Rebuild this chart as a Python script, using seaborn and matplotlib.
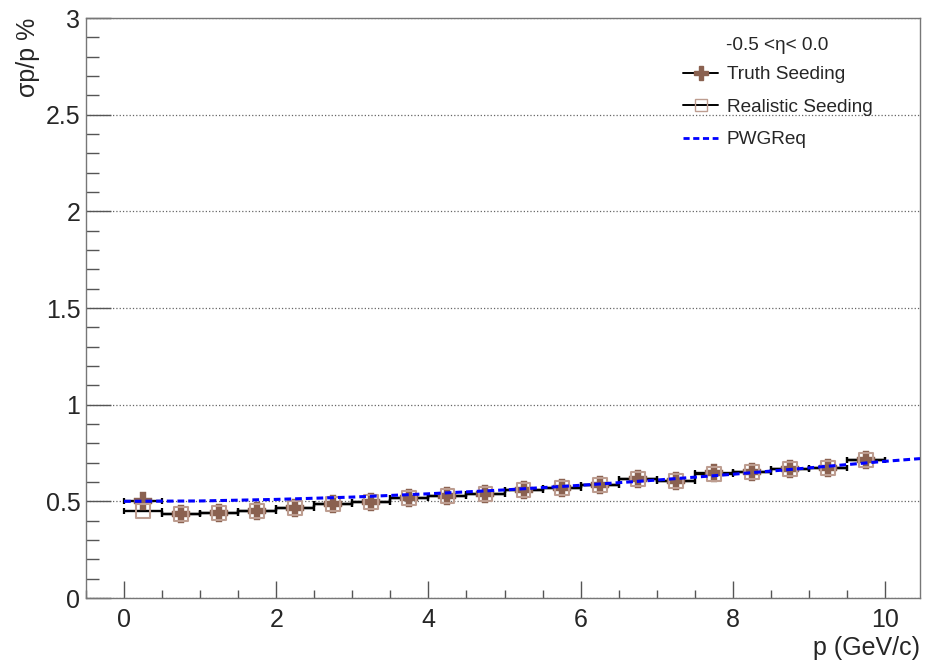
import numpy as np
import matplotlib
matplotlib.use("Agg")
import matplotlib.pyplot as plt
from matplotlib.lines import Line2D
from matplotlib.ticker import MultipleLocator, FormatStrFormatter
import seaborn as sns

# momentum bins (centres, half width 0.25 GeV/c)
p_centers = [0.25, 0.75, 1.25, 1.75, 2.25, 2.75, 3.25, 3.75, 4.25, 4.75,
             5.25, 5.75, 6.25, 6.75, 7.25, 7.75, 8.25, 8.75, 9.25, 9.75]
truth_res = [0.502, 0.435, 0.441, 0.452, 0.464, 0.485, 0.495, 0.517, 0.528, 0.538,
             0.559, 0.567, 0.583, 0.616, 0.607, 0.647, 0.653, 0.667, 0.671, 0.714]
real_res = [0.452, 0.435, 0.441, 0.452, 0.464, 0.485, 0.495, 0.517, 0.528, 0.538,
            0.559, 0.567, 0.583, 0.614, 0.607, 0.643, 0.653, 0.667, 0.671, 0.714]
bin_half = 0.25

# PWG requirement curve
pwg_p = [0.0, 1.0, 2.0, 3.0, 4.0, 5.0, 6.0, 7.0, 8.0, 9.0, 10.0, 10.46]
pwg_res = [0.500, 0.502, 0.510, 0.522, 0.539, 0.559, 0.583, 0.610, 0.640, 0.673, 0.707, 0.721]

truth_col = "#8a6150"
real_col = "#bd9d90"

sns.set_theme(style="white")
plt.rcParams["font.family"] = ["Liberation Sans", "DejaVu Sans"]

fig = plt.figure(figsize=(9.28, 6.61), dpi=100)
ax = fig.add_axes([86 / 928, 1 - 598 / 661, (920 - 86) / 928, (598 - 18) / 661])

# horizontal bin-width bars
ax.errorbar(p_centers, truth_res, xerr=bin_half, fmt="none", ecolor="black",
            elinewidth=1.7, capsize=2.2, capthick=1.6, zorder=3)
ax.errorbar(p_centers, real_res, xerr=bin_half, fmt="none", ecolor="black",
            elinewidth=1.7, capsize=2.2, capthick=1.6, zorder=3)

sns.scatterplot(x=p_centers, y=truth_res, marker="P", s=160, color=truth_col,
                edgecolor=truth_col, linewidth=0.3, ax=ax, zorder=4)
sns.scatterplot(x=p_centers, y=real_res, marker="s", s=100, facecolor="none",
                edgecolor=real_col, linewidth=1.5, ax=ax, zorder=5)

sns.lineplot(x=pwg_p, y=pwg_res, color="blue", lw=2.2, linestyle=(0, (2.2, 1.3)),
             ax=ax, zorder=6)

ax.set_xlim(-0.5, 10.46)
ax.set_ylim(0, 3)
ax.xaxis.set_major_locator(MultipleLocator(2))
ax.xaxis.set_minor_locator(MultipleLocator(0.5))
ax.yaxis.set_major_locator(MultipleLocator(0.5))
ax.yaxis.set_minor_locator(MultipleLocator(0.1))
ax.xaxis.set_major_formatter(FormatStrFormatter("%g"))
ax.yaxis.set_major_formatter(FormatStrFormatter("%g"))
ax.tick_params(axis="x", which="major", direction="in", length=12, width=1,
               color="#555555", labelsize=18, pad=7)
ax.tick_params(axis="x", which="minor", direction="in", length=6, width=1,
               color="#555555")
ax.tick_params(axis="y", which="major", direction="in", length=18, width=1,
               color="#555555", labelsize=18, pad=4)
ax.tick_params(axis="y", which="minor", direction="in", length=9.4, width=1,
               color="#555555")
ax.tick_params(bottom=True, left=True, top=False, right=False, which="both")

ax.grid(False)
ax.yaxis.grid(True, which="major", linestyle=":", color="#666666", lw=0.9)
for sp in ax.spines.values():
    sp.set_color("#777777")
    sp.set_linewidth(1.0)

ax.set_xlabel("p (GeV/c)", fontsize=18)
ax.xaxis.set_label_coords(1.0, -0.065)
ax.xaxis.label.set_ha("right")
ax.set_ylabel("σp/p %", fontsize=18)
ax.yaxis.set_label_coords(-0.084, 1.0)
ax.yaxis.label.set_va("top")
ax.yaxis.label.set_ha("right")

# legend
fig.text(726 / 928, 1 - 46 / 661, "-0.5 <η< 0.0", fontsize=13.7, va="center", ha="left")
handles = [
    Line2D([], [], color="black", lw=1.4, marker="P", ms=10, mfc=truth_col, mec=truth_col),
    Line2D([], [], color="black", lw=1.4, marker="s", ms=9, mfc="none", mec=real_col),
    Line2D([], [], color="blue", lw=2, linestyle=(0, (2.2, 1.3))),
]
labels = ["Truth Seeding", "Realistic Seeding", "PWGReq"]
fig.legend(handles, labels, loc="upper left", bbox_to_anchor=(683 / 928, 1 - 66 / 661),
           frameon=False, fontsize=13.7, handlelength=1.85, handletextpad=0.45,
           labelspacing=0.8, borderaxespad=0, borderpad=0)

fig.savefig("out.png", dpi=100)
